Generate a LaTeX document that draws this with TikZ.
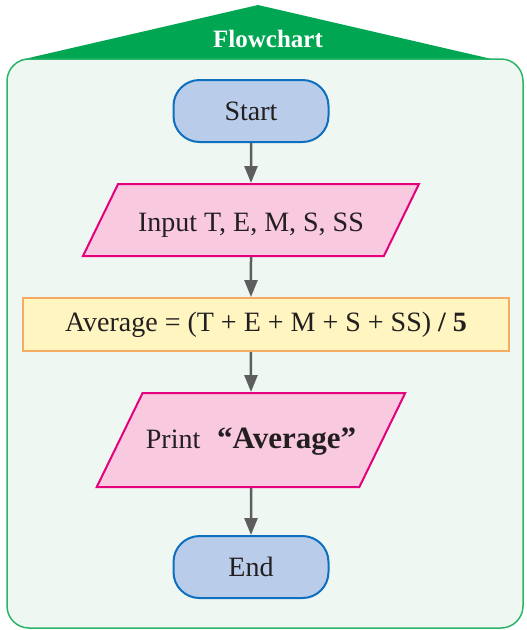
\documentclass[tikz,border=0pt]{standalone}
\usepackage{fontspec}
\setmainfont{Liberation Serif}
\usetikzlibrary{shapes.geometric, arrows.meta, positioning}
\definecolor{panelfill}{HTML}{EEF7F1}
\definecolor{panelline}{HTML}{2DB46B}
\definecolor{headgreen}{HTML}{00A651}
\definecolor{termfill}{HTML}{B9CDEA}
\definecolor{termline}{HTML}{0E6FBE}
\definecolor{iofill}{HTML}{F9C9DF}
\definecolor{ioline}{HTML}{E5007D}
\definecolor{procfill}{HTML}{FEF5C1}
\definecolor{procline}{HTML}{F5AC62}
\definecolor{arrowgray}{HTML}{5E5E5E}
\definecolor{inkdark}{HTML}{231F20}
\tikzset{
  terminal/.style={rectangle, rounded corners=26pt, minimum width=155pt, minimum height=62pt, text centered, draw=termline, line width=2pt, fill=termfill},
  io/.style={trapezium, trapezium left angle=64, trapezium right angle=116, trapezium stretches body=true, text height=26pt, text depth=3.5pt, inner ysep=21.25pt, text centered, draw=ioline, line width=2pt, fill=iofill},
  process/.style={rectangle, minimum width=486pt, minimum height=53pt, text centered, draw=procline, line width=2pt, fill=procfill},
  arrow/.style={draw=arrowgray, line width=2.5pt, -{Triangle[length=17pt, width=13pt]}}
}

\begin{document}
\begin{tikzpicture}[node distance=40pt, font=\fontsize{28}{34}\selectfont, text=inkdark]
  \useasboundingbox (0,0) rectangle (527pt,-630pt);

  % header and panel
  \fill [headgreen] (20pt,-60pt) -- (258pt,-5pt) -- (496pt,-60pt) -- cycle;
  \draw [panelline, fill=panelfill, line width=1.5pt, rounded corners=22pt] (7pt,-59pt) rectangle (523pt,-628pt);
  \node (title) [text=white, font=\fontsize{25}{30}\selectfont\bfseries] at (268pt,-39pt) {Flowchart};

  \node (start) [terminal] at (251pt,-111pt) {Start};
  \node (input) [io, minimum width=336pt, below=of start] {Input T, E, M, S, SS};
  \node (average) [process, below=of input, xshift=15pt] {Average = (T + E + M + S + SS) \textbf{/ 5}};
  \node (print) [io, minimum width=307pt, text height=22pt, text depth=5.5pt, inner ysep=33.25pt, below=of average, xshift=-15pt] {Print\hspace{0.6em}{\fontsize{31}{36}\selectfont\bfseries “Average”}};
  \node (stop) [terminal, below=47pt of print] {End};

  \draw [arrow] (start) -- (input);
  \draw [arrow] (input) -- (input |- average.north);
  \draw [arrow] (average.south -| print) -- (print);
  \draw [arrow] (print) -- (stop);

\end{tikzpicture}
\end{document}
